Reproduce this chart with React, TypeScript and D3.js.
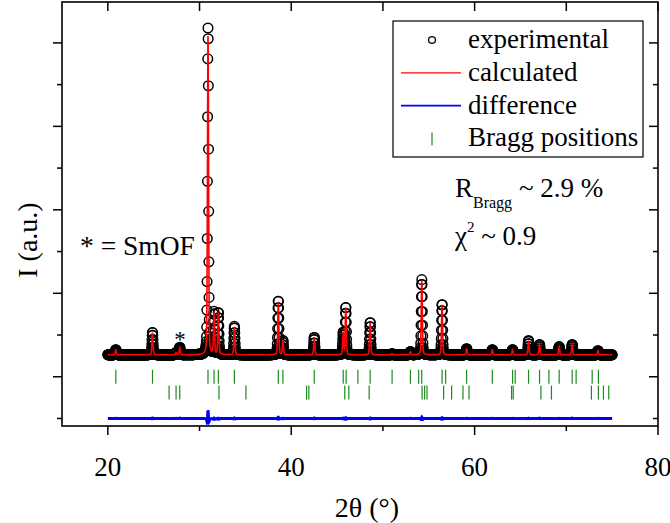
import React from 'react';
import * as d3 from 'd3';

// ---- data ----
// reflections of the refined profile (2θ, °) and their intensities above background (a.u.)
const peakPositions = [20.87, 24.87, 27.44, 27.84, 30.925, 31.58, 32.05, 33.8, 38.59, 39.09, 42.51, 45.67, 45.95, 48.61, 51.0, 53.0, 54.24, 56.45, 59.13, 61.93, 64.14, 65.88, 67.08, 69.22, 70.64, 73.45];
const calcIntensities = [60, 263, 24, 84, 3832, 500, 500, 335, 635, 168, 204, 260, 560, 383, 12, 36, 886, 600, 72, 60, 60, 168, 120, 96, 120, 48];
const obsIntensities = [62, 270, 26, 90, 3930, 505, 505, 340, 650, 170, 210, 265, 570, 390, 12, 38, 900, 610, 74, 62, 62, 172, 124, 98, 124, 50];
const backgroundLevel = 263;
const scanStart = 20;
const scanEnd = 75;
const scanStep = 0.02;
const calcFwhm = 0.14;
const obsFwhm = 0.136;
const lorentzFraction = 0.3;
const differenceOffset = -500;

const braggRow1 = [20.87, 24.87, 30.92, 31.58, 32.05, 33.8, 38.59, 39.09, 42.51, 45.67, 45.99, 47.27, 48.61, 51.0, 53.0, 53.9, 54.23, 56.45, 56.84, 59.13, 61.93, 64.14, 64.43, 65.88, 67.08, 68.1, 69.22, 70.64, 71.07, 72.82, 73.5];
const braggRow2 = [26.68, 27.44, 27.84, 32.12, 35.06, 41.67, 41.92, 45.84, 46.28, 48.5, 54.27, 54.55, 54.81, 56.62, 57.49, 58.73, 59.39, 64.03, 64.21, 67.23, 68.38, 72.74, 73.5, 74.05, 74.63];
const braggRowLevels = [0, -190];

const xMajorTicks = [20, 40, 60, 80];
const xMinorTicks = [30, 50, 70];
const yMajorTicks = [0, 1000, 2000, 3000, 4000];
const yMinorTicks = [-500, 500, 1500, 2500, 3500];
const legendLabels = ['experimental', 'calculated', 'difference', 'Bragg positions'];

// ---- layout ----
const W = 670, H = 523;
const M = { left: 62, right: 658, top: 2, bottom: 426 };
const FONT = "'Liberation Serif', 'Times New Roman', Times, serif";

function profileAt(x: number, heights: number[], fwhm: number) {
  const w = fwhm / 2;
  let y = backgroundLevel;
  for (let i = 0; i < peakPositions.length; i++) {
    const u = ((x - peakPositions[i]) / w) ** 2;
    y += heights[i] * (lorentzFraction / (1 + u) + (1 - lorentzFraction) * Math.exp(-Math.LN2 * u));
  }
  return y;
}

export default function App() {
  const x = d3.scaleLinear().domain([15, 80]).range([M.left, M.right]);
  const y = d3.scaleLinear().domain([-590, 4490]).range([M.bottom, M.top]);

  const n = Math.round((scanEnd - scanStart) / scanStep);
  const angles = d3.range(0, n + 1).map((i) => scanStart + i * scanStep);
  const calc = angles.map((a) => ({ a, v: profileAt(a, calcIntensities, calcFwhm) }));
  const obs = angles.map((a) => ({ a, v: profileAt(a, obsIntensities, obsFwhm) }));
  const diff = angles.map((a, i) => ({ a, v: obs[i].v - calc[i].v + differenceOffset }));

  const line = d3
    .line<{ a: number; v: number }>()
    .x((d) => x(d.a))
    .y((d) => y(d.v));

  const tickMaj = 9, tickMin = 5;
  const stroke = '#000';
  const ts = { fontFamily: FONT };

  return (
    <svg width={W} height={H} style={{ position: 'absolute', left: 0, top: 0, background: '#fff' }}>
      <rect x={0} y={0} width={W} height={H} fill="#fff" />
      {/* experimental points */}
      <g fill="none" stroke="#000" strokeWidth={1.5}>
        {obs.map((d, i) => (
          <circle key={i} cx={x(d.a)} cy={y(d.v)} r={4.8} />
        ))}
      </g>
      {/* calculated */}
      <path d={line(calc) || ''} fill="none" stroke="#ff0000" strokeWidth={1.6} />
      {/* difference */}
      <path d={line(diff) || ''} fill="none" stroke="#0000ff" strokeWidth={3} />
      {/* Bragg positions */}
      <g stroke="#1a8c1a" strokeWidth={1.2}>
        {[braggRow1, braggRow2].map((row, r) =>
          row.map((p, i) => (
            <line key={r + '-' + i} x1={x(p)} x2={x(p)} y1={y(braggRowLevels[r]) - 7} y2={y(braggRowLevels[r]) + 7} />
          ))
        )}
      </g>

      {/* frame */}
      <rect x={M.left} y={M.top} width={M.right - M.left} height={M.bottom - M.top} fill="none" stroke={stroke} strokeWidth={1.6} />
      <g stroke={stroke} strokeWidth={1.5}>
        {xMajorTicks.map((t) => (
          <g key={'xM' + t}>
            <line x1={x(t)} x2={x(t)} y1={M.bottom} y2={M.bottom + tickMaj} />
            <line x1={x(t)} x2={x(t)} y1={M.top} y2={M.top + tickMaj} />
          </g>
        ))}
        {xMinorTicks.map((t) => (
          <g key={'xm' + t}>
            <line x1={x(t)} x2={x(t)} y1={M.bottom} y2={M.bottom + tickMin} />
            <line x1={x(t)} x2={x(t)} y1={M.top} y2={M.top + tickMaj} />
          </g>
        ))}
        {yMajorTicks.map((t) => (
          <g key={'yM' + t}>
            <line x1={M.left - tickMaj} x2={M.left} y1={y(t)} y2={y(t)} />
            <line x1={M.right - tickMaj} x2={M.right} y1={y(t)} y2={y(t)} />
          </g>
        ))}
        {yMinorTicks.map((t) => (
          <g key={'ym' + t}>
            <line x1={M.left - tickMin} x2={M.left} y1={y(t)} y2={y(t)} />
            <line x1={M.right - tickMin} x2={M.right} y1={y(t)} y2={y(t)} />
          </g>
        ))}
      </g>
      {xMajorTicks.map((t) => (
        <text key={'xl' + t} x={x(t)} y={476} textAnchor="middle" fontSize={27} fill="#000" style={ts}>
          {t}
        </text>
      ))}
      <text x={367} y={517} textAnchor="middle" fontSize={28} fill="#000" style={ts}>
        2θ (°)
      </text>
      <text transform="translate(37,240) rotate(-90)" textAnchor="middle" fontSize={28} fill="#000" style={ts}>
        I (a.u.)
      </text>

      {/* annotations */}
      <text x={180} y={347} textAnchor="middle" fontSize={23} fill="#000" style={ts}>*</text>
      <text x={80} y={255} fontSize={27.5} fill="#000" style={ts}>* = SmOF</text>
      <text x={455} y={197} fontSize={27} fill="#000" style={ts}>
        R<tspan fontSize={16} dy={11}>Bragg</tspan>
        <tspan dy={-11}> ~ 2.9 %</tspan>
      </text>
      <text x={455} y={245} fontSize={27} fill="#000" style={ts}>
        χ<tspan fontSize={15} dy={-13}>2</tspan>
        <tspan dy={13}> ~ 0.9</tspan>
      </text>

      {/* legend */}
      <rect x={393} y={21} width={250} height={136} fill="#fff" stroke="#000" strokeWidth={1.2} />
      {legendLabels.map((lab, i) => {
        const cy = 40 + i * 32.8;
        return (
          <g key={lab}>
            {i === 0 && <circle cx={432} cy={cy} r={3.4} fill="none" stroke="#000" strokeWidth={1.3} />}
            {i === 1 && <line x1={401} x2={461} y1={cy} y2={cy} stroke="#ff0000" strokeWidth={1.3} />}
            {i === 2 && <line x1={401} x2={461} y1={cy} y2={cy} stroke="#0000ff" strokeWidth={1.6} />}
            {i === 3 && <line x1={432} x2={432} y1={cy - 6} y2={cy + 7} stroke="#1a8c1a" strokeWidth={1.2} />}
            <text x={468} y={cy + 8} fontSize={27} fill="#000" style={ts}>
              {lab}
            </text>
          </g>
        );
      })}
    </svg>
  );
}
